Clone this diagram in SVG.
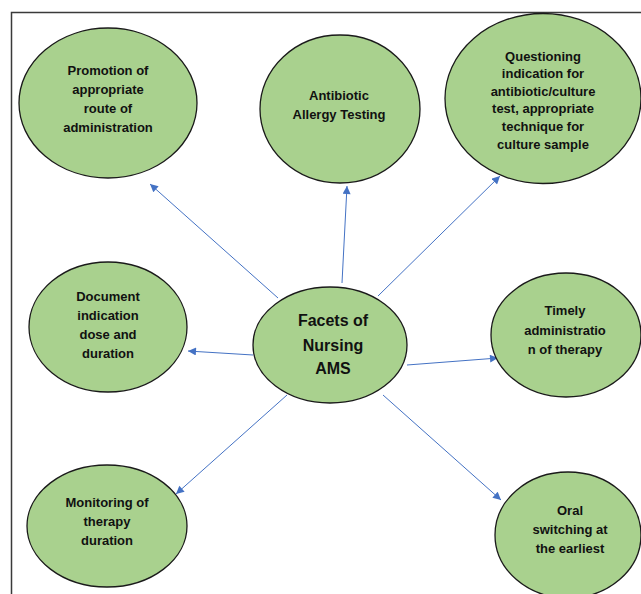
<svg xmlns="http://www.w3.org/2000/svg" width="641" height="594" viewBox="0 0 641 594">
<style>
.n ellipse{fill:#a9d18e;stroke:#1a1a1a;stroke-width:1.3}
.n text{font-family:"Liberation Sans",Arial,sans-serif;font-weight:bold;font-size:13px;fill:#111;text-anchor:middle}
.c text{font-size:16px}
.e line{stroke:#4472c4;stroke-width:1;marker-end:url(#ah)}
</style>
<defs>
<marker id="ah" viewBox="0 0 10 10" refX="10" refY="5" markerWidth="9" markerHeight="8" markerUnits="userSpaceOnUse" orient="auto">
<path d="M0,0 L10,5 L0,10 z" fill="#4472c4"/>
</marker>
</defs>
<rect x="0" y="0" width="641" height="594" fill="#fff"/>
<path d="M11.5,594 V12.5 H641" fill="none" stroke="#3a3a3a" stroke-width="1.5"/>
<g id="connectors" class="e">
<line x1="278" y1="298" x2="150" y2="184"/>
<line x1="342" y1="283" x2="347" y2="186"/>
<line x1="378" y1="296" x2="500" y2="176"/>
<line x1="253" y1="355" x2="188" y2="351"/>
<line x1="407" y1="365" x2="498" y2="358"/>
<line x1="287" y1="395" x2="176" y2="494"/>
<line x1="383" y1="395" x2="501" y2="500"/>
</g>
<g id="n-promotion" class="n">
<ellipse cx="108" cy="103" rx="89" ry="75"/>
<text x="108" y="75">Promotion of</text>
<text x="108" y="94">appropriate</text>
<text x="108" y="113">route of</text>
<text x="108" y="132">administration</text>
</g>
<g id="n-allergy" class="n">
<ellipse cx="340" cy="109" rx="80" ry="74"/>
<text x="339" y="100">Antibiotic</text>
<text x="339" y="119">Allergy Testing</text>
</g>
<g id="n-questioning" class="n">
<ellipse cx="543" cy="98.5" rx="98" ry="85"/>
<text x="543" y="61">Questioning</text>
<text x="543" y="78">indication for</text>
<text x="543" y="96">antibiotic/culture</text>
<text x="543" y="113">test, appropriate</text>
<text x="543" y="131">technique for</text>
<text x="543" y="149">culture sample</text>
</g>
<g id="n-document" class="n">
<ellipse cx="108" cy="327" rx="79" ry="65"/>
<text x="108" y="301">Document</text>
<text x="108" y="320">indication</text>
<text x="108" y="339">dose and</text>
<text x="108" y="358">duration</text>
</g>
<g id="n-center" class="n c">
<ellipse cx="330" cy="345" rx="77" ry="58"/>
<text x="333" y="326">Facets of</text>
<text x="333" y="351">Nursing</text>
<text x="333" y="374">AMS</text>
</g>
<g id="n-timely" class="n">
<ellipse cx="566" cy="335" rx="75" ry="62"/>
<text x="565" y="315">Timely</text>
<text x="565" y="335">administratio</text>
<text x="565" y="354">n of therapy</text>
</g>
<g id="n-monitoring" class="n">
<ellipse cx="107" cy="526" rx="80" ry="61"/>
<text x="107" y="507">Monitoring of</text>
<text x="107" y="526">therapy</text>
<text x="107" y="545">duration</text>
</g>
<g id="n-oral" class="n">
<ellipse cx="568" cy="535" rx="73" ry="63"/>
<text x="570" y="515">Oral</text>
<text x="570" y="534">switching at</text>
<text x="570" y="553">the earliest</text>
</g>
</svg>
